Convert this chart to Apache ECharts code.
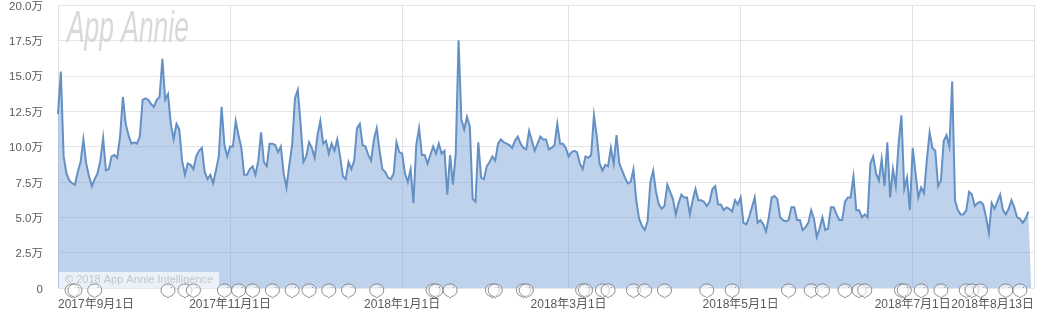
<!DOCTYPE html>
<html><head><meta charset="utf-8">
<style>html,body{margin:0;padding:0;background:#fff}#c{width:1039px;height:320px}</style>
<script src="https://cdn.jsdelivr.net/npm/echarts@6/dist/echarts.min.js"></script>
</head><body><div id="c"></div>
<script>
const startDate = [2017, 9, 1];
const dayCount = 347;
const tickDates = ['2017年9月1日','2017年11月1日','2018年1月1日','2018年3月1日','2018年5月1日','2018年7月1日','2018年8月13日'];
const yTicks = [0,2.5,5,7.5,10,12.5,15,17.5,20];
// values in 万
const valuesA = [12.3,15.3,9.3,8.1,7.6,7.4,7.3,8.2,8.9,10.5,8.8,7.9,7.2,7.7,8.1,9.0,10.6,8.3,8.4,9.3,9.4,9.2,10.7,13.5,11.6,10.8,10.2,10.3,10.2,10.7,13.3,13.4,13.3,13.0,12.8,13.3,13.5,16.2,13.3,13.7,11.6,10.5,11.6,11.2,9.0,8.0,8.8,8.7,8.4,9.3,9.7,9.9,8.2,7.7,8.0,7.4,8.3,9.3,12.8,10.1,9.3,10.0,10.0,11.8,10.8,9.9,8.0,8.0,8.4,8.6,8.0,9.0,11.0,8.9,8.6,10.2,10.2,10.1,9.6,10.0,8.1,7.1,8.7,10.1,13.4,14.0,11.6,8.9,9.3,10.3,9.9,9.2,10.8,11.8,10.2,10.4,9.5,10.2,9.7,10.5,9.3,7.9,7.7,8.9];
const valuesB = [8.4,9.0,11.3,11.6,10.1,10.0,9.4,9.0,10.5,11.3,9.7,8.4,8.2,7.8,7.7,8.1,10.3,9.6,9.5,8.1,7.5,8.4,6.0,10.1,11.3,9.4,9.4,8.8,9.4,10.0,9.5,10.2,9.5,9.7,6.6,9.4,7.3,9.5,17.5,11.9,11.2,12.1,11.4,6.3,6.1,10.3,7.8,7.7,8.6,8.9,9.3,9.0,10.2,10.5,10.3,10.2,10.1,9.9,10.4,10.7,10.2,9.9,9.8,11.1,10.4,9.7,10.2,10.7,10.5,10.5,9.8,9.9,10.1,11.6,10.2,10.2,9.9,9.3,9.6,9.7,9.6,8.8,8.4,9.3,9.2,9.4,12.2,10.7,8.8,8.3,8.7,8.6,9.9,8.8,10.8,8.8,8.3,7.8,7.4,7.5,8.4,6.2,4.9,4.4,4.1,4.7,7.5,8.3,6.8,5.9,5.6,5.8,7.3,6.8,6.3,5.2,6.0,6.6,6.4,6.4,5.2,6.2,7.0,6.2];
const valuesC = [6.2,6.1,5.8,6.1,7.0,7.2,5.9,5.9,5.5,5.7,5.6,5.4,6.2,5.9,6.4,4.6,4.5,5.0,5.7,6.4,4.6,4.8,4.5,4.0,5.0,6.4,6.5,6.3,5.0,4.8,4.7,4.8,5.7,5.7,4.8,4.8,4.1,4.3,4.6,5.5,4.9,3.6,4.2,5.0,4.1,4.2,5.7,5.7,5.2,4.8,4.8,6.1,6.4,6.4,7.9,5.5,5.5,5.0,5.2,5.0,8.8,9.3,8.1,7.6,9.1,7.2,10.3,6.4,8.4,7.2,10.2,12.2,7.0,7.8,5.5,9.9,8.1,6.4,7.1,6.7,9.0,11.0,9.9,9.7,7.2,7.6,10.4,10.8,10.0,14.6,6.2,5.5,5.2,5.2,5.5,6.8,6.6,5.8,6.0,6.1,5.9,5.0,3.9,6.0,5.6,6.1,6.6,5.5,5.2,5.6,6.2,5.7,5.0,4.9,4.6,4.9,5.4];
const endValue = [0];
// day offsets from the first date that carry a note bubble
const noteDays = [5,6,13,39,45,48,59,64,69,76,83,89,96,103,113,133,134,139,154,155,165,166,186,187,193,195,204,208,215,230,239,259,267,271,279,284,286,299,300,306,313,322,324,327,336,341];

const categories = [];
for (let i = 0; i < dayCount; i++) {
  const d = new Date(startDate[0], startDate[1] - 1, startDate[2] + i);
  categories.push(d.getFullYear() + '年' + (d.getMonth() + 1) + '月' + d.getDate() + '日');
}
const lineValues = valuesA.concat(valuesB, valuesC);
const areaValues = lineValues.concat(endValue);
const isTick = (idx, val) => tickDates.includes(val);
const FONT = '"Liberation Sans","Noto Sans CJK SC",sans-serif';
const BUBBLE = 'path://M50 4C24 4 4 22 4 46C4 68 20 84 40 88L50 98L60 88C80 84 96 68 96 46C96 22 76 4 50 4ZM70 24L76 31';

const chart = echarts.init(document.getElementById('c'), null, {renderer:'canvas'});
chart.setOption({
  animation:false,
  backgroundColor:'#fff',
  grid:{left:58,right:5,top:5,bottom:32},
  xAxis:{
    type:'category',boundaryGap:false,data:categories,
    axisLine:{show:false},axisTick:{show:false},
    splitLine:{show:true,interval:isTick,lineStyle:{color:'#e1e3ea',width:1}},
    axisLabel:{interval:isTick,margin:11,fontSize:12,color:'#5a5a5a',fontFamily:FONT,
      alignMinLabel:'left',alignMaxLabel:'right',hideOverlap:false}
  },
  yAxis:{
    type:'value',min:0,max:20,interval:2.5,
    axisLine:{show:false},axisTick:{show:false},
    splitLine:{lineStyle:{color:'#e4e5ea',width:1}},
    axisLabel:{margin:15,fontSize:11.5,color:'#5a5a5a',fontFamily:FONT,verticalAlign:'top',lineHeight:3,
      verticalAlignMinLabel:'top',verticalAlignMaxLabel:'top',
      formatter:v=>v===0?'0':(yTicks.includes(v)?v.toFixed(1)+'万':'')}
  },
  series:[
    {type:'line',data:areaValues,symbol:'none',lineStyle:{width:0},
      areaStyle:{color:'rgba(120,160,214,0.48)',opacity:1},z:2,silent:true},
    {type:'line',data:lineValues,symbol:'none',lineStyle:{width:2,color:'#6490c4',join:'miter'},z:3,silent:true},
    {type:'scatter',data:noteDays.map(d=>[d,0]),symbol:BUBBLE,symbolSize:[14,14],symbolOffset:[0,3],clip:false,z:6,silent:true,
      itemStyle:{color:'rgba(255,255,255,0.7)',borderColor:'#707070',borderWidth:1}}
  ],
  graphic:[
    {type:'text',x:67,y:8,scaleX:0.6,z:1,silent:true,
      style:{text:'App Annie',font:'italic 44px "Liberation Sans",sans-serif',fill:'#d9d9d9'}},
    {type:'rect',left:59,top:272,z:5,silent:true,shape:{width:160,height:16},style:{fill:'rgba(255,255,255,0.68)'}},
    {type:'text',left:65,top:274,z:5,silent:true,
      style:{text:'© 2018 App Annie Intelligence',font:'11px "Liberation Sans",sans-serif',fill:'#c3c6cc'}}
  ]
});
</script></body></html>
